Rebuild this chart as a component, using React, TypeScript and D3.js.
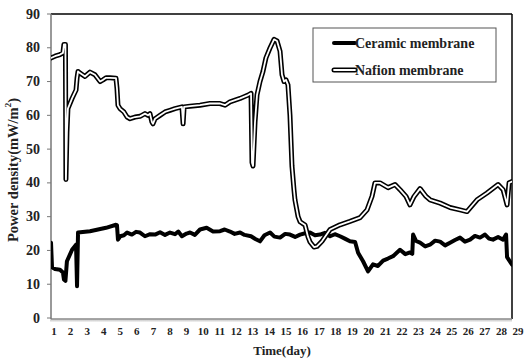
import React from "react";
import * as d3 from "d3";

const W = 524;
const H = 359;

const yTicks = [0, 10, 20, 30, 40, 50, 60, 70, 80, 90];
const xTickLabels = d3.range(1, 30).map(String);

const nafionDays = [
  0.82, 1.06, 1.36, 1.54, 1.6, 1.69, 1.72, 1.78, 1.84, 2.09, 2.33, 2.39, 2.45, 2.57, 2.87, 3.17, 3.47, 3.78,
  3.96, 4.14, 4.38, 4.74, 4.8, 4.86, 4.98, 5.22, 5.41, 5.59, 5.89, 6.19, 6.49, 6.67, 6.79, 6.91, 6.97, 7.1,
  7.4, 7.7, 8.0, 8.3, 8.72, 8.79, 8.85, 9.21, 9.81, 10.41, 11.02, 11.32, 11.62, 12.23, 12.71, 12.89, 12.95,
  13.01, 13.13, 13.25, 13.43, 13.61, 13.79, 14.04, 14.28, 14.46, 14.64, 14.76, 14.88, 15.0, 15.12, 15.24,
  15.36, 15.48, 15.54, 15.73, 15.85, 16.15, 16.33, 16.45, 16.69, 16.87, 17.17, 17.42, 17.66, 18.26, 18.86,
  19.47, 19.89, 20.19, 20.37, 20.67, 21.16, 21.58, 21.88, 22.24, 22.48, 22.73, 23.09, 23.45, 23.69, 24.3,
  24.9, 25.5, 25.92, 26.53, 27.13, 27.8, 28.1, 28.34, 28.46, 28.64,
];
const nafionValues = [
  77, 77.5, 78, 78.5, 81, 81, 41, 55, 62, 65, 67.5, 71, 73, 72.5, 71.5, 72.8, 72, 70,
  70.5, 71.1, 71.1, 71, 68, 63, 62, 61, 59.5, 59, 59.5, 59.7, 60.5, 60, 60.5, 58, 57.5, 59,
  60, 61, 61.5, 62, 62.5, 57.5, 62.5, 62.7, 63, 63.5, 63.5, 63, 64, 65, 66, 66.5, 46,
  45, 58, 66, 70, 73, 77, 80, 82.5, 82, 79, 72, 70, 70.5, 69, 60,
  45, 38, 35, 30, 28.5, 27.5, 24, 22.5, 21, 21.2, 22.7, 24.5, 26.2, 27.6, 28.6,
  29.7, 32, 36, 40, 40, 38.6, 39.5, 38, 36, 33.5, 36, 38.3, 36, 35, 34,
  32.7, 32, 31.5, 35, 37, 39.5, 38, 33.5, 40, 40.4,
];

const ceramicDays = [
  0.82, 0.88, 1.06, 1.36, 1.54, 1.6, 1.69, 1.78, 2.09, 2.33, 2.39, 2.45, 3.17, 4.14, 4.74, 4.8, 4.86, 5.0,
  5.22, 5.41, 5.7, 5.95, 6.19, 6.49, 6.8, 7.1, 7.4, 7.7, 8.0, 8.3, 8.5, 8.72, 9.0, 9.21, 9.5, 9.81, 10.21,
  10.6, 11.02, 11.3, 11.62, 11.9, 12.23, 12.5, 12.89, 13.15, 13.43, 13.7, 14.04, 14.3, 14.64, 14.95, 15.24,
  15.55, 15.85, 16.15, 16.45, 16.75, 17.05, 17.35, 17.66, 17.95, 18.26, 18.55, 18.86, 19.17, 19.35, 19.65,
  19.95, 20.25, 20.55, 20.86, 21.15, 21.46, 21.88, 22.2, 22.48, 22.62, 22.67, 22.85, 23.09, 23.4, 23.69,
  24.0, 24.3, 24.6, 24.9, 25.2, 25.5, 25.8, 26.11, 26.4, 26.71, 27.01, 27.25, 27.49, 27.8, 28.1, 28.28,
  28.34, 28.64,
];
const ceramicValues = [
  22.3, 15, 14.5, 14.3, 13.5, 11.4, 11, 16.8, 20.2, 21.7, 9.4, 25.3, 25.7, 26.7, 27.6, 27.5, 23.2, 24.2,
  24.5, 25.3, 24.7, 25.5, 25.3, 24.2, 24.8, 24.7, 25.4, 24.6, 25.3, 24.8, 25.6, 24.2, 25.0, 25.3, 24.6, 26.2, 26.7,
  25.6, 25.7, 26.2, 25.6, 24.9, 25.3, 24.6, 24.2, 23.4, 22.7, 24.5, 25.3, 24.1, 23.8, 24.9, 24.7,
  24.0, 24.7, 25.1, 25.3, 24.5, 24.7, 25.2, 24.2, 24.8, 24.2, 23.5, 22.7, 22.5, 19.3, 16.8,
  13.8, 15.9, 15.4, 17.0, 17.6, 18.3, 20.2, 18.9, 19.4, 19.0, 24.7, 22.8, 22.3, 21.2, 21.7,
  22.9, 22.6, 21.5, 22.3, 23.1, 23.8, 22.6, 23.2, 24.3, 23.8, 24.7, 23.5, 23.2, 24.0, 23.2, 24.7,
  18, 15.8,
];

const FONT = "'Liberation Serif', 'Times New Roman', serif";

export default function App() {
  const left = 51;
  const right = 512;
  const top = 14;
  const bottom = 319;

  const x = d3.scaleLinear().domain([1, 29]).range([54, 518]);
  const y = d3.scaleLinear().domain([0, 90]).range([318, 14]);

  const line = d3
    .line<[number, number]>()
    .x((d) => x(d[0]))
    .y((d) => y(d[1]))
    .curve(d3.curveLinear);

  const nafion = line(nafionDays.map((d, i) => [d, nafionValues[i]]) as [number, number][]) || "";
  const ceramic = line(ceramicDays.map((d, i) => [d, ceramicValues[i]]) as [number, number][]) || "";

  const minorTicks = d3.range(left, right, 2);

  return (
    <svg width={W} height={H} style={{ position: "absolute", left: 0, top: 0, background: "#fff" }}>
      <defs>
        <clipPath id="plot">
          <rect x={left} y={top - 6} width={right - left} height={bottom - top + 6} />
        </clipPath>
      </defs>
      <rect x={0} y={0} width={W} height={H} fill="#fff" />

      {/* frame */}
      <line x1={left} x2={right} y1={top} y2={top} stroke="#000" strokeWidth={1.5} />
      <line x1={right} x2={right} y1={top} y2={bottom} stroke="#000" strokeWidth={1.5} />

      {/* bottom axis: gray with dense tick marks */}
      <line x1={left} x2={right} y1={bottom} y2={bottom} stroke="#888" strokeWidth={1.5} />
      {minorTicks.map((t) => (
        <line key={t} x1={t} x2={t} y1={bottom} y2={bottom + 2.5} stroke="#999" strokeWidth={0.8} />
      ))}

      {/* left axis */}
      <line x1={left} x2={left} y1={top} y2={bottom} stroke="#777" strokeWidth={1.5} />
      {yTicks.map((t) => (
        <g key={t}>
          <line x1={left - 4} x2={left} y1={y(t)} y2={y(t)} stroke="#777" strokeWidth={1} />
          <text
            x={40}
            y={y(t)}
            textAnchor="end"
            dominantBaseline="central"
            fontFamily={FONT}
            fontWeight="bold"
            fontSize={14}
            fill="#222"
          >
            {t}
          </text>
        </g>
      ))}

      {xTickLabels.map((lab) => (
        <text
          key={lab}
          x={x(+lab)}
          y={331}
          textAnchor="middle"
          dominantBaseline="central"
          fontFamily={FONT}
          fontWeight="bold"
          fontSize={11}
          fill="#222"
        >
          {lab}
        </text>
      ))}

      {/* axis titles */}
      <text
        x={282}
        y={350}
        textAnchor="middle"
        dominantBaseline="central"
        fontFamily={FONT}
        fontWeight="bold"
        fontSize={13}
        fill="#222"
      >
        Time(day)
      </text>
      <text
        transform={`translate(13,170) rotate(-90)`}
        textAnchor="middle"
        dominantBaseline="central"
        fontFamily={FONT}
        fontWeight="bold"
        fontSize={14.5}
        fill="#222"
      >
        Power density(mW/m<tspan dy={-5} fontSize={9}>2</tspan>
        <tspan dy={5}>)</tspan>
      </text>

      {/* series */}
      <g clipPath="url(#plot)">
        <path d={ceramic} fill="none" stroke="#000" strokeWidth={4} strokeLinejoin="round" strokeLinecap="round" />
        <path d={nafion} fill="none" stroke="#000" strokeWidth={5} strokeLinejoin="round" strokeLinecap="round" />
        <path d={nafion} fill="none" stroke="#fff" strokeWidth={1.8} strokeLinejoin="round" strokeLinecap="round" />
      </g>

      {/* legend */}
      <rect x={313} y={28} width={183} height={54} fill="#fff" stroke="#555" strokeWidth={1} />
      <line x1={334} x2={355} y1={43} y2={43} stroke="#000" strokeWidth={4} strokeLinecap="round" />
      <text x={355} y={43} dominantBaseline="central" fontFamily={FONT} fontWeight="bold" fontSize={14} fill="#222">
        Ceramic membrane
      </text>
      <line x1={334} x2={355} y1={70} y2={70} stroke="#000" strokeWidth={5} strokeLinecap="round" />
      <line x1={334} x2={355} y1={70} y2={70} stroke="#fff" strokeWidth={1.8} strokeLinecap="round" />
      <text x={355} y={70} dominantBaseline="central" fontFamily={FONT} fontWeight="bold" fontSize={14} fill="#222">
        Nafion membrane
      </text>
    </svg>
  );
}
